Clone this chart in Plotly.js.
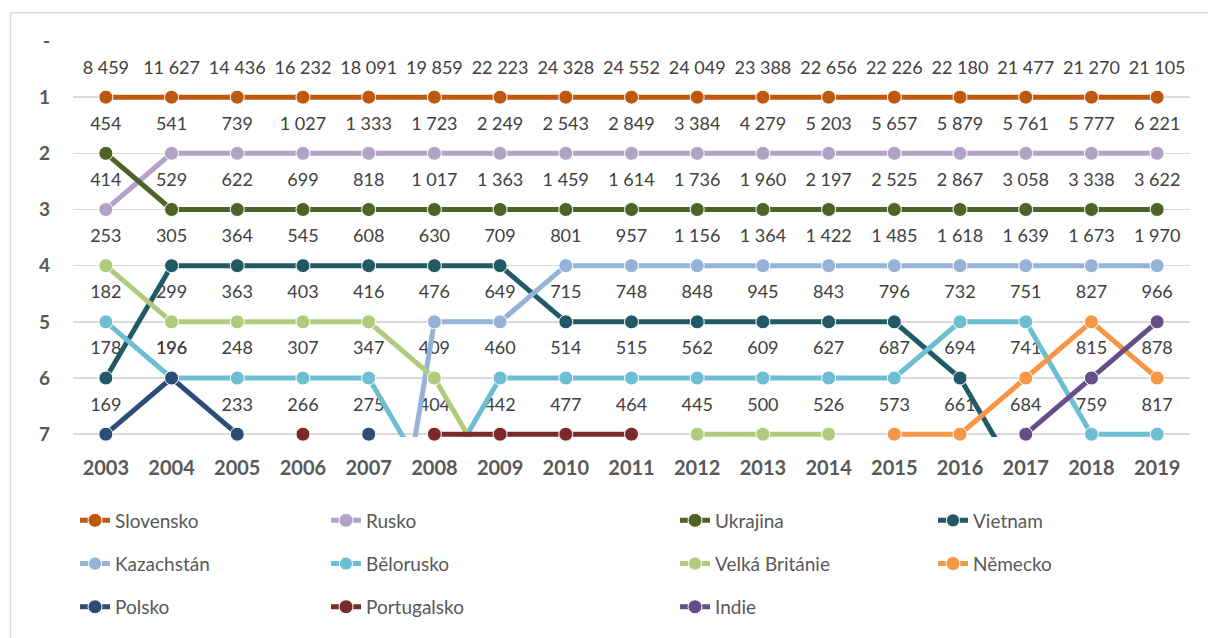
<!DOCTYPE html>
<html>
<head>
<meta charset="utf-8">
<script src="https://cdn.plot.ly/plotly-3.0.1.min.js"></script>
<style>
  html, body { margin: 0; padding: 0; background: #ffffff; }
  #chart { width: 1208px; height: 638px; }
</style>
</head>
<body>
<div id="chart"></div>
<script>
// ---- data ----
const years = [2003, 2004, 2005, 2006, 2007, 2008, 2009, 2010, 2011, 2012, 2013, 2014, 2015, 2016, 2017, 2018, 2019];
const rankTickLabels = ['-', '1', '2', '3', '4', '5', '6', '7'];

const countries = ['Slovensko', 'Rusko', 'Ukrajina', 'Vietnam', 'Kazachstán', 'Bělorusko', 'Velká Británie', 'Německo', 'Polsko', 'Portugalsko', 'Indie'];
const colors = ['#BE580C', '#B3A2C7', '#4F6228', '#215967', '#95B3D7', '#6DBED3', '#B0CB7B', '#F79646', '#2C4D76', '#7A2A2A', '#644F88'];

const rankSlovensko   = [1, 1, 1, 1, 1, 1, 1, 1, 1, 1, 1, 1, 1, 1, 1, 1, 1];
const rankRusko       = [3, 2, 2, 2, 2, 2, 2, 2, 2, 2, 2, 2, 2, 2, 2, 2, 2];
const rankUkrajina    = [2, 3, 3, 3, 3, 3, 3, 3, 3, 3, 3, 3, 3, 3, 3, 3, 3];
const rankVietnam     = [6, 4, 4, 4, 4, 4, 4, 5, 5, 5, 5, 5, 5, 6, 8, null, null];
const rankKazachstan  = [null, null, null, null, 12, 5, 5, 4, 4, 4, 4, 4, 4, 4, 4, 4, 4];
const rankBelorusko   = [5, 6, 6, 6, 6, 8, 6, 6, 6, 6, 6, 6, 6, 5, 5, 7, 7];
const rankVB          = [4, 5, 5, 5, 5, 6, 8, null, null, 7, 7, 7, null, null, null, null, null];
const rankNemecko     = [null, null, null, null, null, null, null, null, null, null, null, null, 7, 7, 6, 5, 6];
const rankPolsko      = [7, 6, 7, null, 7, null, null, null, null, null, null, null, null, null, null, null, null];
const rankPortugalsko = [null, null, null, 7, null, 7, 7, 7, 7, null, null, null, null, null, null, null, null];
const rankIndie       = [null, null, null, null, null, null, null, null, null, null, null, null, null, null, 7, 6, 5];

const valSlovensko   = [8459, 11627, 14436, 16232, 18091, 19859, 22223, 24328, 24552, 24049, 23388, 22656, 22226, 22180, 21477, 21270, 21105];
const valRusko       = [414, 541, 739, 1027, 1333, 1723, 2249, 2543, 2849, 3384, 4279, 5203, 5657, 5879, 5761, 5777, 6221];
const valUkrajina    = [454, 529, 622, 699, 818, 1017, 1363, 1459, 1614, 1736, 1960, 2197, 2525, 2867, 3058, 3338, 3622];
const valVietnam     = [178, 305, 364, 545, 608, 630, 709, 715, 748, 848, 945, 843, 796, 694, null, null, null];
const valKazachstan  = [null, null, null, null, null, 476, 649, 801, 957, 1156, 1364, 1422, 1485, 1618, 1639, 1673, 1970];
const valBelorusko   = [182, 196, 248, 307, 347, null, 460, 514, 515, 562, 609, 627, 687, 732, 751, 759, 817];
const valVB          = [253, 299, 363, 403, 416, 409, null, null, null, 445, 500, 526, null, null, null, null, null];
const valNemecko     = [null, null, null, null, null, null, null, null, null, null, null, null, 573, 661, 741, 827, 878];
const valPolsko      = [169, 196, 233, null, 275, null, null, null, null, null, null, null, null, null, null, null, null];
const valPortugalsko = [null, null, null, 266, null, 404, 442, 477, 464, null, null, null, null, null, null, null, null];
const valIndie       = [null, null, null, null, null, null, null, null, null, null, null, null, null, null, 684, 815, 966];

const ranks = [rankSlovensko, rankRusko, rankUkrajina, rankVietnam, rankKazachstan, rankBelorusko, rankVB, rankNemecko, rankPolsko, rankPortugalsko, rankIndie];
const values = [valSlovensko, valRusko, valUkrajina, valVietnam, valKazachstan, valBelorusko, valVB, valNemecko, valPolsko, valPortugalsko, valIndie];

// legend column assignment (Excel-style 4 columns)
const legendCols = ['legend', 'legend2', 'legend3', 'legend4', 'legend', 'legend2', 'legend3', 'legend4', 'legend', 'legend2', 'legend3'];

// ---- layout geometry ----
const W = 1208, H = 638;
const yBottom = 7.05;               // a little room so rank-7 lines are not half clipped
const rowPx = 56.6;                 // pixels per rank step
const M = { l: 73, r: 18, t: 41 };
M.b = Math.round(H - M.t - rowPx * yBottom);
const PW = W - M.l - M.r, PH = H - M.t - M.b;
const px2x = p => (p - M.l) / PW;
const py2y = p => 1 - (p - M.t) / PH;

const fontFam = 'Lato, "Open Sans", "Liberation Sans", sans-serif';
const fmt = v => String(v).replace(/\B(?=(\d{3})+(?!\d))/g, ' ');
const maxRank = 7;
const markerSize = 14;

// ---- traces ----
const traces = [];

// data labels (beneath the lines, like the reference)
const lx = [], ly = [], lt = [];
countries.forEach((c, i) => {
  years.forEach((yr, j) => {
    const r = ranks[i][j], v = values[i][j];
    if (r !== null && r <= maxRank && v !== null) {
      lx.push(yr); ly.push(r - 0.5); lt.push(fmt(v));
    }
  });
});
traces.push({
  type: 'scatter', mode: 'text', x: lx, y: ly, text: lt,
  textposition: 'middle center',
  textfont: { family: fontFam, size: 18, color: '#404040' },
  hoverinfo: 'skip', showlegend: false, cliponaxis: false
});

countries.forEach((c, i) => {
  traces.push({
    type: 'scatter', mode: 'lines+markers', name: c,
    x: years, y: ranks[i],
    line: { color: colors[i], width: 5 },
    // points ranked below the visible range get no marker (their lines are clipped)
    marker: { color: colors[i], opacity: 1, size: ranks[i].map(r => (r !== null && r > maxRank) ? 0 : markerSize) },
    connectgaps: false, cliponaxis: false,
    legend: legendCols[i], legendgroup: 'g' + i,
    hoverinfo: 'x+y+name'
  });
});

// ---- legends ----
const legFont = { family: fontFam, size: 19, color: '#595959' };
const legTop = py2y(505);
const mkLeg = (textLeftPx) => ({
  x: px2x(textLeftPx - 42), xanchor: 'left', y: legTop, yanchor: 'top',
  orientation: 'v', font: legFont, bgcolor: 'rgba(0,0,0,0)', borderwidth: 0,
  tracegroupgap: 15.5, traceorder: 'grouped'
});

const layout = {
  width: W, height: H,
  margin: M,
  paper_bgcolor: '#ffffff', plot_bgcolor: '#ffffff',
  showlegend: true,
  xaxis: {
    range: [2002.5, 2019.5],
    tickvals: years, ticktext: years.map(String),
    showgrid: false, zeroline: false, showline: false, ticks: '',
    tickfont: { family: fontFam, size: 20, color: '#595959', weight: 'bold' },
    ticklabelstandoff: 17, fixedrange: true
  },
  yaxis: {
    range: [yBottom, 0],
    tickvals: [0, 1, 2, 3, 4, 5, 6, 7], ticktext: rankTickLabels,
    showgrid: true, gridcolor: '#D9D9D9', gridwidth: 1.5,
    zeroline: false, showline: false, ticks: '',
    tickfont: { family: fontFam, size: 19, color: '#595959', weight: 'bold' },
    ticklabelstandoff: 22, fixedrange: true
  },
  legend: mkLeg(117),
  legend2: mkLeg(368),
  legend3: mkLeg(717),
  legend4: mkLeg(975),
  shapes: [{
    type: 'rect', xref: 'paper', yref: 'paper', layer: 'below',
    x0: px2x(10.5), x1: px2x(1215), y0: py2y(660), y1: py2y(12.5),
    line: { color: '#D9D9D9', width: 1.5 }, fillcolor: 'rgba(0,0,0,0)'
  }]
};

Plotly.newPlot('chart', traces, layout, { displayModeBar: false, staticPlot: true });
</script>
</body>
</html>
